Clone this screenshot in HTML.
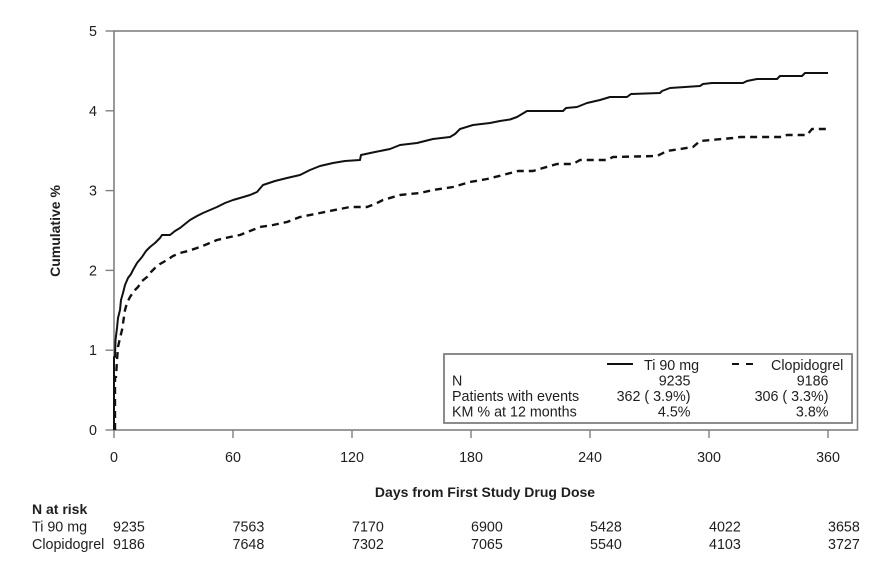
<!DOCTYPE html>
<html>
<head>
<meta charset="utf-8">
<style>
  html,body{margin:0;padding:0;background:#fff;}
  svg{display:block;}
  text{font-family:"Liberation Sans",Arial,sans-serif;fill:#1e1e1e;}
</style>
</head>
<body>
<svg width="895" height="570" viewBox="0 0 895 570" xmlns="http://www.w3.org/2000/svg">
  <rect x="0" y="0" width="895" height="570" fill="#fff"/>

  <!-- plot frame -->
  <rect x="114" y="31" width="743.5" height="399" fill="none" stroke="#808080" stroke-width="1.6"/>

  <!-- y ticks -->
  <g stroke="#808080" stroke-width="1.4">
    <line x1="105.5" y1="31" x2="114" y2="31"/>
    <line x1="105.5" y1="110.8" x2="114" y2="110.8"/>
    <line x1="105.5" y1="190.6" x2="114" y2="190.6"/>
    <line x1="105.5" y1="270.4" x2="114" y2="270.4"/>
    <line x1="105.5" y1="350.2" x2="114" y2="350.2"/>
    <line x1="105.5" y1="430" x2="114" y2="430"/>
  </g>
  <g font-size="14.3" text-anchor="end">
    <text x="97" y="36">5</text>
    <text x="97" y="115.8">4</text>
    <text x="97" y="195.6">3</text>
    <text x="97" y="275.4">2</text>
    <text x="97" y="355.2">1</text>
    <text x="97" y="435">0</text>
  </g>

  <!-- x ticks -->
  <g stroke="#808080" stroke-width="1.4">
    <line x1="114" y1="430" x2="114" y2="438"/>
    <line x1="233" y1="430" x2="233" y2="438"/>
    <line x1="352" y1="430" x2="352" y2="438"/>
    <line x1="471" y1="430" x2="471" y2="438"/>
    <line x1="590" y1="430" x2="590" y2="438"/>
    <line x1="709" y1="430" x2="709" y2="438"/>
    <line x1="828" y1="430" x2="828" y2="438"/>
  </g>
  <g font-size="14.3" text-anchor="middle">
    <text x="114" y="462">0</text>
    <text x="233" y="462">60</text>
    <text x="352" y="462">120</text>
    <text x="471" y="462">180</text>
    <text x="590" y="462">240</text>
    <text x="709" y="462">300</text>
    <text x="828" y="462">360</text>
  </g>

  <!-- axis titles -->
  <text x="485" y="497" font-size="14" font-weight="bold" text-anchor="middle">Days from First Study Drug Dose</text>
  <text transform="translate(60,231) rotate(-90)" font-size="14" font-weight="bold" text-anchor="middle">Cumulative %</text>

  <!-- solid curve: Ti 90 mg -->
  <polyline fill="none" stroke="#111" stroke-width="2" stroke-linejoin="round"
    points="114,430 114,357 115,357 115.5,340 117,328 118,318 120,310 121,300 123,293 125,285 128,278 131,274 133,270 137,263 142,257 146,251 150,247 155,243 160,238 162,235 170,235 175,231 180,228 185,224 190,220 197,216 203,213 210,210 217,207 225,203 233,200 240,198 250,195 257,192 263,185 275,181 287,178 300,175 310,170 320,166 333,163 345,161 360,160 361,155 375,152 390,149 400,145 417,143 433,139 450,137 455,134 460,129 473,125 490,123 500,121 510,119.5 517,117 522,114 527,111 563,111 566,108 577,107 587,103 600,100 610,97 627,97 631,94 660,93 662,91 670,88 700,86 703,84 712,83 743,83 747,81 757,79 777,79 780,76 802,76 805,73 828,73"/>

  <!-- dashed curve: Clopidogrel -->
  <polyline fill="none" stroke="#111" stroke-width="2.4" stroke-dasharray="7,5" stroke-linejoin="round"
    points="115,430 115,377 116,377 117,360 118,347 120,338 122,330 123.5,320 125,310 127,303 130,297 134,291 138,287 142,281 147,277 151,272 155,268 160,264 167,260 173,256 180,253 188,251 197,248 205,245 217,240 230,237 240,235 250,231 260,227 273,225 287,222 300,217 320,213 340,209 350,207 367,207 375,204 383,200 400,195 420,193 433,190 453,187 470,182 487,179 503,175 518,171 533,171 543,168 557,164 573,164 580,160 607,160 613,157 657,156 667,151 693,147 700,141 733,138 740,137 783,137 787,135 807,135 812,129 828,129"/>

  <!-- legend box -->
  <rect x="444" y="354" width="408" height="69" fill="#fff" stroke="#808080" stroke-width="1.8"/>
  <line x1="607" y1="364" x2="633" y2="364" stroke="#111" stroke-width="2"/>
  <line x1="732" y1="364" x2="739" y2="364" stroke="#111" stroke-width="2"/>
  <line x1="746" y1="364" x2="753" y2="364" stroke="#111" stroke-width="2"/>
  <g font-size="14.3">
    <text x="644" y="370">Ti 90 mg</text>
    <text x="771" y="370">Clopidogrel</text>
    <text x="452" y="385.5">N</text>
    <text x="452" y="401">Patients with events</text>
    <text x="452" y="416.5">KM % at 12 months</text>
  </g>
  <g font-size="14.3" text-anchor="end">
    <text x="690.5" y="385.5">9235</text>
    <text x="690.5" y="401">362 ( 3.9%)</text>
    <text x="690.5" y="416.5">4.5%</text>
    <text x="828.5" y="385.5">9186</text>
    <text x="828.5" y="401">306 ( 3.3%)</text>
    <text x="828.5" y="416.5">3.8%</text>
  </g>

  <!-- N at risk -->
  <text x="32" y="514" font-size="14" font-weight="bold">N at risk</text>
  <g font-size="14.3">
    <text x="32" y="531.7">Ti 90 mg</text>
    <text x="32" y="549">Clopidogrel</text>
    <text x="113" y="531.7">9235</text>
    <text x="232.5" y="531.7">7563</text>
    <text x="352" y="531.7">7170</text>
    <text x="471" y="531.7">6900</text>
    <text x="590" y="531.7">5428</text>
    <text x="709" y="531.7">4022</text>
    <text x="828" y="531.7">3658</text>
    <text x="113" y="549">9186</text>
    <text x="232.5" y="549">7648</text>
    <text x="352" y="549">7302</text>
    <text x="471" y="549">7065</text>
    <text x="590" y="549">5540</text>
    <text x="709" y="549">4103</text>
    <text x="828" y="549">3727</text>
  </g>
</svg>
</body>
</html>
